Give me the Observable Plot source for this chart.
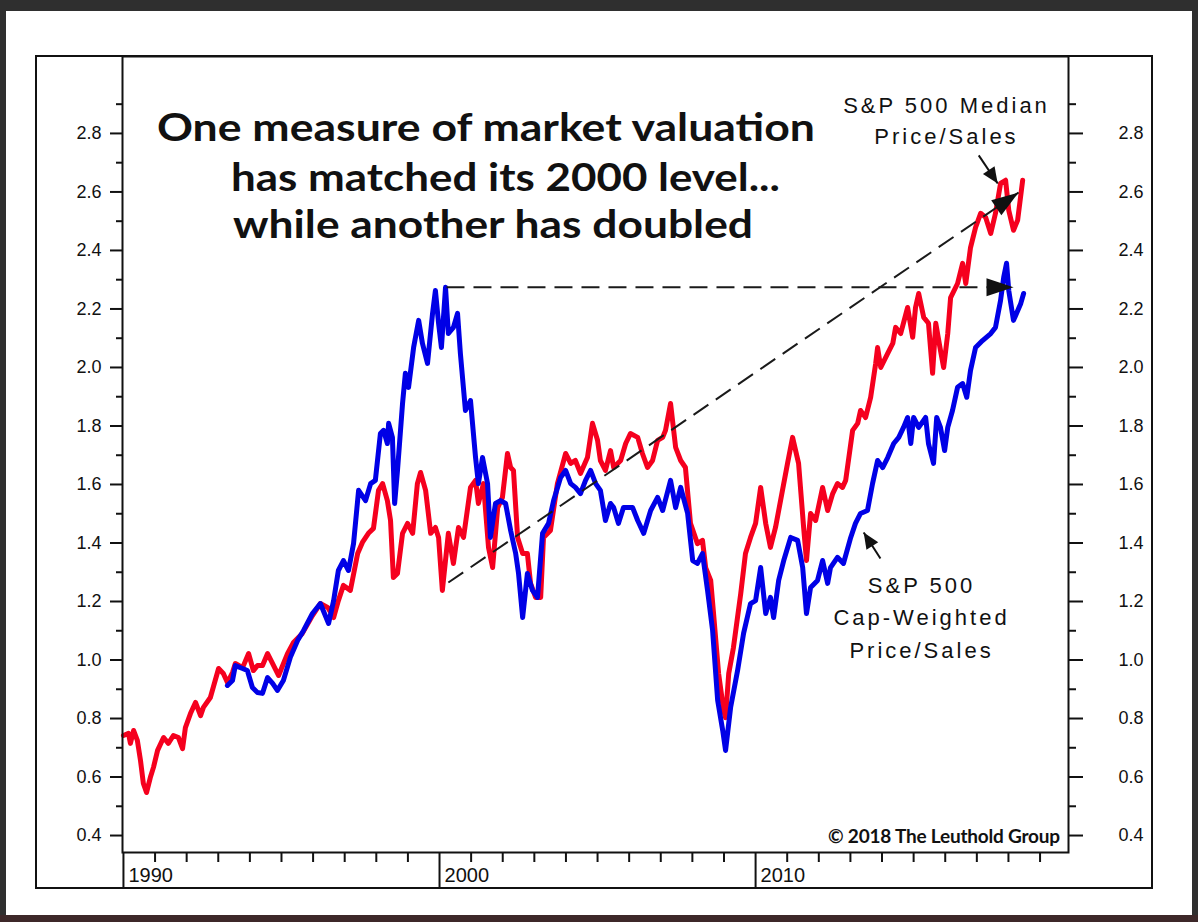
<!DOCTYPE html>
<html><head><meta charset="utf-8">
<script src="https://cdn.jsdelivr.net/npm/d3@7"></script>
<script src="https://cdn.jsdelivr.net/npm/@observablehq/plot@0.6"></script>
<style>
html,body{margin:0;padding:0;background:#2f2f2f;overflow:hidden;width:1198px;height:922px;}
#paper{position:absolute;left:6px;top:11px;width:1186px;height:904px;background:#fff;}
#floor{position:absolute;left:0;top:915px;width:1198px;height:7px;background:#3d2829;}
#chart{position:absolute;left:0;top:0;}
</style></head><body>
<div id="paper"></div><div id="floor"></div><div id="chart"></div>
<script>
// ---- S&P 500 Median Price/Sales (red) ----
const medianYear = [
1990.0,1990.16,1990.22,1990.32,1990.44,1990.54,1990.63,1990.73,1990.85,1990.95,
1991.08,1991.27,1991.42,1991.58,1991.74,1991.87,1991.96,1992.12,1992.28,1992.44,
1992.53,1992.75,1993.01,1993.16,1993.29,1993.45,1993.54,1993.77,1993.96,1994.11,
1994.24,1994.40,1994.56,1994.72,1994.91,1995.19,1995.38,1995.66,1995.98,1996.23,
1996.46,1996.65,1996.80,1996.96,1997.18,1997.41,1997.56,1997.75,1997.91,1998.07,
1998.20,1998.35,1998.45,1998.54,1998.67,1998.83,1998.99,1999.15,1999.30,1999.40,
1999.56,1999.72,1999.87,1999.97,2000.09,2000.28,2000.44,2000.60,2000.76,2000.98,
2001.14,2001.23,2001.39,2001.55,2001.68,2001.84,2001.99,2002.15,2002.25,2002.34,
2002.47,2002.63,2002.78,2002.88,2003.04,2003.20,2003.29,2003.51,2003.73,2003.99,
2004.15,2004.30,2004.46,2004.68,2004.84,2005.00,2005.09,2005.25,2005.41,2005.51,
2005.73,2005.89,2006.04,2006.27,2006.42,2006.58,2006.74,2006.90,2007.06,2007.15,
2007.31,2007.47,2007.63,2007.78,2007.94,2008.16,2008.32,2008.42,2008.58,2008.67,
2008.83,2008.99,2009.05,2009.15,2009.30,2009.53,2009.68,2009.84,2010.00,2010.16,
2010.32,2010.47,2010.63,2010.79,2011.01,2011.17,2011.36,2011.52,2011.61,2011.74,
2011.90,2012.12,2012.28,2012.44,2012.59,2012.75,2012.85,2013.07,2013.23,2013.32,
2013.48,2013.64,2013.80,2013.86,2013.96,2014.18,2014.34,2014.43,2014.59,2014.81,
2014.97,2015.06,2015.16,2015.32,2015.47,2015.60,2015.70,2015.85,2015.95,2016.08,
2016.17,2016.39,2016.55,2016.65,2016.80,2016.96,2017.12,2017.28,2017.44,2017.59,
2017.75,2017.91,2018.01,2018.16,2018.29,2018.45];
const medianPS = [
0.742,0.749,0.715,0.759,0.725,0.656,0.578,0.547,0.598,0.633,
0.691,0.735,0.715,0.742,0.735,0.697,0.769,0.817,0.855,0.810,
0.838,0.872,0.971,0.954,0.923,0.957,0.988,0.974,1.022,0.964,
0.981,0.981,1.022,0.988,0.947,1.022,1.060,1.091,1.152,1.193,
1.180,1.145,1.203,1.255,1.238,1.364,1.402,1.433,1.450,1.580,
1.603,1.545,1.477,1.282,1.296,1.433,1.467,1.433,1.603,1.641,
1.580,1.433,1.453,1.419,1.238,1.433,1.330,1.453,1.419,1.590,
1.614,1.535,1.603,1.385,1.316,1.521,1.556,1.706,1.658,1.648,
1.419,1.364,1.364,1.262,1.214,1.214,1.419,1.443,1.603,1.706,
1.672,1.682,1.638,1.692,1.809,1.751,1.682,1.648,1.716,1.658,
1.682,1.740,1.774,1.761,1.706,1.658,1.682,1.751,1.761,1.785,
1.877,1.727,1.682,1.658,1.467,1.398,1.409,1.316,1.272,1.159,
0.954,0.827,0.803,0.954,1.043,1.227,1.364,1.419,1.467,1.590,
1.467,1.385,1.453,1.545,1.672,1.761,1.672,1.453,1.340,1.501,
1.477,1.590,1.511,1.569,1.603,1.590,1.614,1.785,1.809,1.853,
1.829,1.898,2.014,2.068,2.000,2.048,2.082,2.137,2.116,2.205,
2.103,2.205,2.253,2.171,2.151,1.980,2.151,2.058,2.000,2.116,
2.239,2.287,2.356,2.287,2.410,2.479,2.527,2.513,2.458,2.527,
2.629,2.640,2.537,2.469,2.503,2.640];

// ---- S&P 500 Cap-Weighted Price/Sales (blue) ----
const capYear = [
1993.29,1993.45,1993.54,1993.77,1993.92,1994.08,1994.24,1994.40,1994.56,1994.72,
1994.87,1995.06,1995.28,1995.51,1995.70,1995.98,1996.23,1996.49,1996.65,1996.80,
1996.96,1997.12,1997.28,1997.44,1997.66,1997.82,1997.97,1998.13,1998.23,1998.35,
1998.39,1998.51,1998.58,1998.67,1998.83,1998.92,1999.02,1999.18,1999.34,1999.46,
1999.62,1999.78,1999.87,1999.97,2000.06,2000.19,2000.28,2000.44,2000.57,2000.66,
2000.82,2000.98,2001.14,2001.23,2001.36,2001.52,2001.61,2001.77,2001.93,2002.09,
2002.25,2002.41,2002.50,2002.63,2002.78,2002.94,2003.10,2003.26,2003.45,2003.61,
2003.83,2003.99,2004.15,2004.30,2004.46,2004.62,2004.78,2004.94,2005.09,2005.25,
2005.41,2005.51,2005.66,2005.82,2006.11,2006.27,2006.46,2006.68,2006.90,2007.06,
2007.31,2007.47,2007.63,2007.85,2008.01,2008.16,2008.32,2008.48,2008.64,2008.80,
2008.96,2009.05,2009.21,2009.43,2009.62,2009.84,2010.00,2010.16,2010.32,2010.47,
2010.57,2010.73,2010.89,2011.11,2011.33,2011.49,2011.61,2011.74,2011.96,2012.12,
2012.28,2012.37,2012.59,2012.78,2013.01,2013.16,2013.32,2013.54,2013.70,2013.86,
2014.02,2014.18,2014.37,2014.53,2014.68,2014.81,2014.91,2015.00,2015.16,2015.38,
2015.47,2015.63,2015.73,2015.85,2015.98,2016.08,2016.23,2016.39,2016.55,2016.68,
2016.80,2016.96,2017.18,2017.44,2017.59,2017.75,2017.85,2017.94,2018.01,2018.16,
2018.39,2018.48];
const capPS = [
0.913,0.930,0.981,0.971,0.964,0.906,0.889,0.886,0.940,0.920,
0.896,0.930,1.009,1.067,1.101,1.159,1.193,1.125,1.203,1.306,
1.340,1.306,1.398,1.580,1.545,1.603,1.614,1.774,1.785,1.740,
1.809,1.761,1.535,1.648,1.877,1.980,1.932,2.068,2.161,2.082,
2.014,2.185,2.263,2.151,2.068,2.274,2.116,2.137,2.185,2.048,
1.853,1.887,1.692,1.603,1.692,1.603,1.419,1.535,1.545,1.535,
1.443,1.364,1.296,1.145,1.296,1.238,1.214,1.433,1.467,1.545,
1.624,1.648,1.603,1.590,1.569,1.614,1.648,1.603,1.580,1.477,
1.535,1.521,1.467,1.521,1.521,1.477,1.433,1.511,1.556,1.511,
1.614,1.521,1.590,1.501,1.340,1.330,1.364,1.238,1.101,0.862,
0.759,0.691,0.838,0.964,1.091,1.193,1.203,1.316,1.159,1.214,
1.145,1.272,1.340,1.419,1.409,1.316,1.159,1.248,1.272,1.340,
1.262,1.316,1.351,1.330,1.419,1.467,1.501,1.511,1.603,1.682,
1.658,1.692,1.740,1.761,1.795,1.829,1.740,1.829,1.795,1.829,
1.740,1.672,1.829,1.795,1.716,1.795,1.853,1.932,1.945,1.898,
1.990,2.068,2.092,2.116,2.137,2.229,2.308,2.356,2.263,2.161,
2.219,2.253];

// ---- axes ----
const yMajorTicks = [0.4,0.6,0.8,1.0,1.2,1.4,1.6,1.8,2.0,2.2,2.4,2.6,2.8];
const yMinorTicks = [0.5,0.7,0.9,1.1,1.3,1.5,1.7,1.9,2.1,2.3,2.5,2.7,2.9];
const decadeTicks = [1990,2000,2010];
const yearTicks = [1991,1992,1993,1994,1995,1996,1997,1998,1999,2001,2002,2003,2004,2005,2006,2007,2008,2009,2011,2012,2013,2014,2015,2016,2017,2018,2019];

// ---- annotations ----
const titleLines = ["One measure of market valuation","has matched its 2000 level...","while another has doubled"];
const creditText = "© 2018 The Leuthold Group";
const seriesLabels = ["S&P 500 Median\nPrice/Sales","S&P 500\nCap-Weighted\nPrice/Sales"];
const labelYear = [2016.04, 2015.25];
const labelValue = [2.85, 1.154];
const guideStartYear = [2000.22, 2000.28];
const guideStartValue = [2.274, 1.265];
const guideEndYear = [2018.16, 2018.32];
const guideEndValue = [2.274, 2.598];
const pointerStartYear = [2017.06, 2013.95];
const pointerStartValue = [2.725, 1.347];
const pointerEndYear = [2017.66, 2013.42];
const pointerEndValue = [2.629, 1.436];

// ---- build ----
const W = 1198, H = 922, mL = 122, mR = 130, mT = 56, mB = 70;
const xDomain = [1989.97, 2019.9], yDomain = [0.342, 3.063];
const xs = Plot.scale({x: {domain: xDomain, range: [mL, W - mR]}});
const ys = Plot.scale({y: {domain: yDomain, range: [H - mB, mT]}});
const ang = (x1, y1, x2, y2) => {
  const dx = xs.apply(x2) - xs.apply(x1), dy = ys.apply(y2) - ys.apply(y1);
  return Math.atan2(dx, -dy) * 180 / Math.PI;
};
const median = medianYear.map((d, i) => ({year: d, ps: medianPS[i]}));
const cap = capYear.map((d, i) => ({year: d, ps: capPS[i]}));
const guides = guideStartYear.map((d, i) => ({x1: d, y1: guideStartValue[i], x2: guideEndYear[i], y2: guideEndValue[i]}));
guides.forEach(g => g.a = ang(g.x1, g.y1, g.x2, g.y2));
const pointers = pointerStartYear.map((d, i) => ({x1: d, y1: pointerStartValue[i], x2: pointerEndYear[i], y2: pointerEndValue[i]}));
pointers.forEach(g => g.a = ang(g.x1, g.y1, g.x2, g.y2));
const head = (len, half) => ({draw(ctx) { ctx.moveTo(0, 0); ctx.lineTo(-half, len); ctx.lineTo(half, len); ctx.closePath(); }});

const axisFont = "Liberation Sans, Arial, sans-serif";
const plot = Plot.plot({
  width: W, height: H,
  marginLeft: mL, marginRight: mR, marginTop: mT, marginBottom: mB,
  x: {domain: xDomain},
  y: {domain: yDomain},
  style: {background: "transparent", fontFamily: axisFont, color: "#111", overflow: "visible"},
  marks: [
    Plot.line(median, {x: "year", y: "ps", stroke: "#f5001e", strokeWidth: 5, strokeLinejoin: "round", strokeLinecap: "round"}),
    Plot.line(cap, {x: "year", y: "ps", stroke: "#0000e6", strokeWidth: 5, strokeLinejoin: "round", strokeLinecap: "round"}),
    Plot.link(guides, {x1: "x1", y1: "y1", x2: "x2", y2: "y2", stroke: "#1a1a1a", strokeWidth: 2, strokeDasharray: "18,9"}),
    Plot.dot(guides, {x: "x2", y: "y2", rotate: "a", symbol: head(27, 9), r: 10, fill: "#111", stroke: "none"}),
    Plot.link(pointers, {x1: "x1", y1: "y1", x2: "x2", y2: "y2", stroke: "#111", strokeWidth: 2}),
    Plot.dot(pointers, {x: "x2", y: "y2", rotate: "a", symbol: head(16, 7), r: 8, fill: "#111", stroke: "none"}),
    Plot.text([seriesLabels[0]], {x: [labelYear[0]], y: [labelValue[0]], text: d => d, fontSize: 22, fontFamily: axisFont, lineHeight: 1.4, fill: "#111"}),
    Plot.text([seriesLabels[1]], {x: [labelYear[1]], y: [labelValue[1]], text: d => d, fontSize: 22, fontFamily: axisFont, lineHeight: 1.48, fill: "#111"}),
    Plot.axisY({ticks: yMajorTicks, anchor: "left", tickSize: 12, tickPadding: 9, tickFormat: d => d.toFixed(1), fontSize: 18, strokeWidth: 2, label: null}),
    Plot.axisY({ticks: yMinorTicks, anchor: "left", tickSize: 6, tickFormat: () => "", strokeWidth: 2, label: null}),
    Plot.axisY({ticks: yMajorTicks, anchor: "right", tickSize: 14, tickPadding: 36, tickFormat: d => d.toFixed(1), fontSize: 18, strokeWidth: 2, label: null}),
    Plot.axisY({ticks: yMinorTicks, anchor: "right", tickSize: 7, tickFormat: () => "", strokeWidth: 2, label: null}),
    Plot.axisX({ticks: yearTicks, anchor: "bottom", tickSize: 10, tickFormat: () => "", strokeWidth: 2, label: null}),
    Plot.axisX({ticks: decadeTicks, anchor: "bottom", tickSize: 36, tickFormat: () => "", strokeWidth: 2, label: null}),
    Plot.axisX({ticks: decadeTicks, anchor: "bottom", tickSize: 0, tickPadding: 15, textAnchor: "start", dx: 5, fontSize: 20, tickFormat: d => String(d), label: null}),
    Plot.frame({stroke: "#111", strokeWidth: 2})
  ]
});
document.getElementById("chart").appendChild(plot);

const svg = d3.select(plot);
svg.selectAll('g[aria-label="text"] text').attr("letter-spacing", "3px");
// outer frame
svg.append("rect").attr("x", 36).attr("y", 56).attr("width", 1116).attr("height", 832)
  .attr("fill", "none").attr("stroke", "#111").attr("stroke-width", 2);
// title inside the plot
const tx = [157, 231, 233], tb = [141, 191, 238], tl = [658, 549, 520];
const tg = svg.append("g").attr("font-family", "Lato, 'Open Sans', sans-serif").attr("font-weight", 700)
  .attr("font-size", 39).attr("fill", "#111").attr("text-anchor", "start");
titleLines.forEach((t, i) => tg.append("text").attr("x", tx[i]).attr("y", tb[i])
  .attr("textLength", tl[i]).attr("lengthAdjust", "spacingAndGlyphs").text(t));
// credit
svg.append("text").attr("x", 1060).attr("y", 843).attr("text-anchor", "end")
  .attr("font-family", "Lato, 'Open Sans', sans-serif").attr("font-weight", 700).attr("font-size", 19)
  .attr("textLength", 232).attr("lengthAdjust", "spacing").attr("fill", "#111").text(creditText);
</script>
</body></html>
